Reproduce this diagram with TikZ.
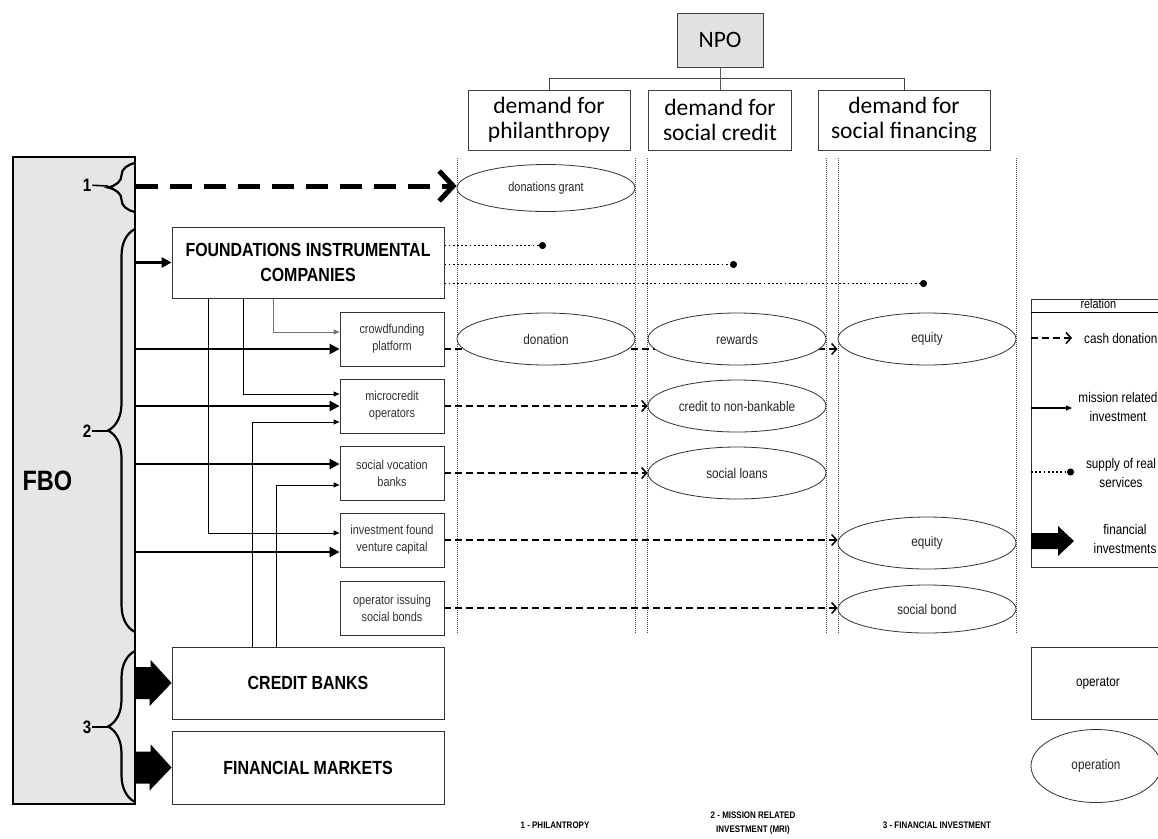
\documentclass[tikz,border=0pt]{standalone}
\usepackage{fontspec}
\setmainfont{Liberation Sans}[FakeStretch=0.84]
\newfontfamily\calfont{Carlito}
\usetikzlibrary{positioning,calc,arrows.meta,shapes.geometric,decorations.pathreplacing,backgrounds}
\definecolor{fbogray}{RGB}{230,230,230}
\definecolor{npogray}{RGB}{226,226,226}
\definecolor{treec}{RGB}{70,95,120}
\tikzset{
  box/.style={rectangle,draw=black!80,line width=0.8pt,fill=white,inner sep=2pt,align=center},
  org/.style={box,minimum width=272pt,font=\fontsize{19}{25}\selectfont\bfseries},
  opr/.style={box,minimum width=104pt,minimum height=54pt,text=black!80,font=\fontsize{13}{17}\selectfont},
  dem/.style={rectangle,draw=black!75,line width=0.8pt,minimum height=60pt,inner sep=1pt,align=center,font=\calfont\fontsize{23.5}{25}\selectfont},
  deal/.style={ellipse,draw=black!80,line width=0.8pt,fill=white,minimum width=178pt,minimum height=52pt,inner sep=0pt,text=black!85,font=\fontsize{14}{16}\selectfont},
  num/.style={font=\fontsize{18}{20}\selectfont\bfseries,inner sep=1pt},
  brc/.style={decorate,decoration={brace,amplitude=27pt},line width=2.2pt},
  cash/.style={line width=1.8pt,dash pattern=on 7pt off 4pt,-{Straight Barb[length=5pt,width=11pt,line width=1.5pt]}},
  bigcash/.style={line width=5pt,dash pattern=on 22pt off 12pt,-{Straight Barb[length=14pt,width=30pt,line width=5pt]}},
  mri/.style={line width=2.6pt,-{Triangle[length=10pt,width=10pt]}},
  feed/.style={line width=0.9pt,-{Triangle[length=6pt,width=5pt]}},
  supply/.style={line width=1.8pt,dash pattern=on 1.8pt off 2.4pt,-{Circle[length=7pt]}},
  sep/.style={line width=0.6pt,black!70,dash pattern=on 0.8pt off 1.2pt},
  note/.style={font=\fontsize{14}{19}\selectfont,align=center,inner sep=1pt},
  phase/.style={font=\fontsize{9.5}{14}\selectfont\bfseries,align=center,inner sep=0pt},
}
\begin{document}
\begin{tikzpicture}[x=1pt,y=-1pt]
  \useasboundingbox (0,0) rectangle (1158,838);
  \node[rectangle,draw=black,line width=1.4pt,fill=fbogray,minimum width=122pt,minimum height=647pt,inner sep=0pt] (fbo) at (74,480.5) {};
  \node[anchor=west,font=\fontsize{28}{30}\selectfont\bfseries,inner sep=0pt] (fbot) at ([xshift=10pt]fbo.west) {FBO};
  \draw[brc] (135,212) -- (135,163); \draw[brc] (135,632) -- (135,229); \draw[brc] (135,802) -- (135,651);
  \coordinate (tip1) at (108,186); \coordinate (tip2) at (108,431); \coordinate (tip3) at (108,727);
  \node[num] (n1) at (87,185) {1}; \node[num] (n2) at (87,431) {2}; \node[num] (n3) at (87,727) {3};
  \draw[line width=1.6pt] (n1) -- (tip1); \draw[line width=1.6pt] (n2) -- (tip2); \draw[line width=1.6pt] (n3) -- (tip3);

  \node[org,minimum height=71pt] (fic) at (308,262.5) {FOUNDATIONS INSTRUMENTAL\\COMPANIES};
  \node[org,minimum height=72pt] (cb) at (308,683) {CREDIT BANKS};
  \node[org,minimum height=73pt] (fm) at (308,767.5) {FINANCIAL MARKETS};
  \node[opr] (crowd) at (392,339) {crowdfunding\\platform};
  \node[opr] (micro) at (392,406) {microcredit\\operators};
  \node[opr] (svb) at (392,473) {social vocation\\banks};
  \node[opr] (ifvc) at (392,540) {investment found\\venture capital};
  \node[opr] (bonds) at (392,608) {operator issuing\\social bonds};

  \node[dem,fill=npogray,minimum width=86pt,minimum height=54pt] (npo) at (720,40) {NPO};
  \node[dem,minimum width=162pt] (d1) at (549,120) {demand for\\philanthropy};
  \node[dem,minimum width=143pt] (d2) at (720,120) {demand for\\social credit};
  \node[dem,minimum width=172pt] (d3) at (904,120) {demand for\\social financing};
  \draw[line width=0.9pt,black!75] (d1.north) -- ++(0,-11) -| (d3.north);
  \draw[line width=0.9pt,treec] (npo.south) -- (d2.north);

  \node[deal,minimum height=47pt,font=\fontsize{13}{15}\selectfont] (dg) at (546,188) {donations grant};
  \node[deal] (donA) at (546,339) {donation};
  \node[deal] (rewA) at (737,339) {rewards};
  \node[deal] (eqA) at (927,339) {equity};
  \node[deal] (credB) at (737,406) {credit to non-bankable};
  \node[deal] (loans) at (737,473) {social loans};
  \node[deal] (eqD) at (927,543) {equity};
  \node[deal,minimum height=48pt] (bond) at (927,609) {social bond};

  \coordinate (c3a) at (fbo.east |- cb.west); \coordinate (c3b) at (fbo.east |- fm.west);
  \fill (c3a) ++(0,-16) -- ++(15,0) -- ++(0,-7) -- (cb.west) -- ++(-22,23) -- ++(0,-7) -- ++(-15,0) -- cycle;
  \fill (c3b) ++(0,-16) -- ++(15,0) -- ++(0,-7) -- (fm.west) -- ++(-22,23) -- ++(0,-7) -- ++(-15,0) -- cycle;

  \node[box,minimum width=134pt,minimum height=268pt,anchor=north west] (leg) at (1031,299) {};
  \node[note,anchor=north,inner sep=0pt,font=\fontsize{13}{15}\selectfont] (legh) at (leg.north) {relation};
  \coordinate (lh) at ([yshift=-13pt]leg.north west); \draw[line width=0.8pt] (lh) -- (lh -| leg.east);
  \coordinate (l1) at ([yshift=-39pt]leg.north west); \coordinate (e1) at ([xshift=41pt]l1);
  \coordinate (l2) at ([yshift=-109pt]leg.north west); \coordinate (e2) at ([xshift=41pt]l2);
  \coordinate (l3) at ([yshift=-173pt]leg.north west); \coordinate (e3) at ([xshift=43pt]l3);
  \coordinate (l4) at ([yshift=-242pt]leg.north west);
  \node[note,anchor=west] (t1) at ([xshift=52pt]l1) {cash donation};
  \node[note] (t2) at (1118,407) {mission related\\investment};
  \node[note] (t3) at (1121,473) {supply of real\\services};
  \node[note] (t4) at (1125,539) {financial\\investments};
  \draw[cash] (l1) -- (e1);
  \draw[line width=1.2pt,-{Triangle[length=6pt,width=5pt]}] (l2) -- (e2);
  \draw[supply] (l3) -- (e3);
  \fill (l4) ++(0,-8) -- ++(27,0) -- ++(0,-7) -- ++(16,15) -- ++(-16,15) -- ++(0,-7) -- ++(-27,0) -- cycle;
  \node[box,note,minimum width=134pt,minimum height=72pt] (lop) at (1098,683) {operator};
  \node[deal,minimum width=130pt,minimum height=73pt] (lopn) at (1096,766) {operation};

  \node[phase] (p1) at (555,825) {1 - PHILANTROPY};
  \node[phase] (p2) at (753,823) {2 - MISSION RELATED\\INVESTMENT (MRI)};
  \node[phase] (p3) at (937,825) {3 - FINANCIAL INVESTMENT};

  \begin{scope}[on background layer]
    \draw[sep] (457,158) -- (457,634); \draw[sep] (635,158) -- (635,634); \draw[sep] (647,158) -- (647,634);
    \draw[sep] (826,158) -- (826,634); \draw[sep] (838,158) -- (838,634); \draw[sep] (1016,158) -- (1016,634);
    \draw[bigcash] (fbo.east |- tip1) -- (dg.west |- tip1);
    \coordinate (cfA) at ([yshift=-10pt]crowd.west); \coordinate (svA) at ([yshift=9pt]svb.west);
    \coordinate (ivA) at ([yshift=-12pt]ifvc.west);
    \draw[mri] (fbo.east |- fic.west) -- (fic.west);
    \draw[mri] (fbo.east |- cfA) -- (cfA);
    \draw[mri] (fbo.east |- micro.west) -- (micro.west);
    \draw[mri] (fbo.east |- svA) -- (svA);
    \draw[mri] (fbo.east |- ivA) -- (ivA);
    \draw[feed,black!55] ([xshift=-35pt]fic.south) |- ([yshift=7pt]crowd.west);
    \draw[feed] ([xshift=-65pt]fic.south) |- ([yshift=12pt]micro.west);
    \draw[feed] ([xshift=-100pt]fic.south) |- ([yshift=7pt]ifvc.west);
    \draw[feed] ([xshift=-56pt]cb.north) |- ([yshift=-16pt]micro.west);
    \draw[feed] ([xshift=-32pt]cb.north) |- ([yshift=-12pt]svb.west);
    \coordinate (s1) at ([yshift=17pt]fic.east); \coordinate (s2) at ([yshift=-2pt]fic.east);
    \coordinate (s3) at ([yshift=-21pt]fic.east);
    \draw[supply] (s1) -- (s1 -| dg.center);
    \draw[supply] (s2) -- (s2 -| rewA.center);
    \draw[supply] (s3) -- (s3 -| eqA.center);
    \coordinate (cfB) at ([yshift=-10pt]crowd.east);
    \draw[cash] (cfB) -- (cfB -| eqA.west);
    \draw[cash] (micro.east) -- (micro.east -| credB.west);
    \draw[cash] (svb.east) -- (svb.east -| loans.west);
    \draw[cash] (ifvc.east) -- (ifvc.east -| eqD.west);
    \draw[cash] (bonds.east) -- (bonds.east -| bond.west);
  \end{scope}
\end{tikzpicture}
\end{document}
